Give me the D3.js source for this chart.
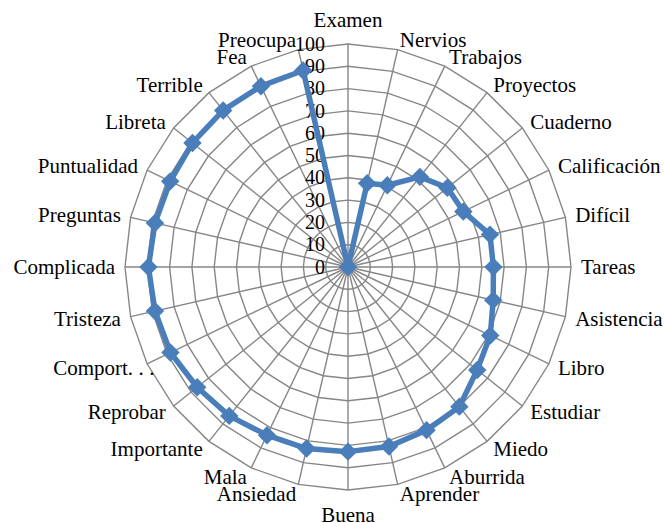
<!DOCTYPE html>
<html>
<head>
<meta charset="utf-8">
<script src="https://cdn.jsdelivr.net/npm/d3@7"></script>
<style>
  html, body { margin: 0; padding: 0; background: #fff; }
  svg { display: block; }
  text { font-family: "Liberation Serif", "Times New Roman", serif; fill: #000; }
  text.cat { font-size: 21px; }
  text.tick { font-size: 20px; }
</style>
</head>
<body>
<svg id="chart" width="665" height="523"></svg>
<script>
// Categories around the radar, clockwise from the top
const categories = [
  "Examen", "Nervios", "Trabajos", "Proyectos", "Cuaderno", "Calificación", "Difícil",
  "Tareas", "Asistencia", "Libro", "Estudiar", "Miedo", "Aburrida", "Aprender",
  "Buena", "Ansiedad", "Mala", "Importante", "Reprobar", "Comport...", "Tristeza",
  "Complicada", "Preguntas", "Puntualidad", "Libreta", "Terrible", "Fea", "Preocupa"
];

// One value per category (0–100)
const values = [
  0, 38.5, 40.7, 51.7, 57, 57.4, 65.3,
  65.2, 66.8, 70.8, 74.1, 80.1, 81.2, 82.6,
  82.8, 83.5, 83.7, 85.4, 86.5, 88.4, 88.8,
  89.5, 88.8, 88.5, 89.2, 89.8, 90, 90.4
];

// Radial axis ticks
const ticks = [0, 10, 20, 30, 40, 50, 60, 70, 80, 90, 100];

const cx = 348, cy = 267, R = 223;
const n = categories.length;

const svg = d3.select("#chart");
const g = svg.append("g").attr("transform", `translate(${cx},${cy})`);

const r = d3.scaleLinear().domain([0, 100]).range([0, R]);
const angle = d3.scaleLinear().domain([0, n]).range([0, 2 * Math.PI]);

const gridColor = "#868686";

// Polygon rings
const ringLine = d3.lineRadial()
  .angle((d, i) => angle(i))
  .radius(d => r(d))
  .curve(d3.curveLinearClosed);

ticks.filter(t => t > 0).forEach(t => {
  g.append("path")
    .attr("d", ringLine(categories.map(() => t)))
    .attr("fill", "none")
    .attr("stroke", gridColor)
    .attr("stroke-width", 1.4);
});

// Spokes
categories.forEach((c, i) => {
  const a = angle(i);
  g.append("line")
    .attr("x1", 0).attr("y1", 0)
    .attr("x2", r(100) * Math.sin(a))
    .attr("y2", -r(100) * Math.cos(a))
    .attr("stroke", gridColor)
    .attr("stroke-width", 1.4);
});

// Tick labels along the top spoke
g.selectAll("text.tick")
  .data(ticks)
  .join("text")
  .attr("class", "tick")
  .attr("x", -23)
  .attr("y", d => -r(d))
  .attr("dy", "0.33em")
  .attr("text-anchor", "end")
  .text(d => d);

// Category labels
const gap = 10;
g.selectAll("text.cat")
  .data(categories)
  .join("text")
  .attr("class", "cat")
  .each(function(d, i) {
    const a = angle(i);
    const s = Math.sin(a), c = Math.cos(a);
    let x = (R + gap) * s;
    let y = -(R + gap) * c;
    let anchor = "middle";
    if (s > 0.05) anchor = "start";
    else if (s < -0.05) anchor = "end";
    else y += c > 0 ? -14 : 15;
    const t = d3.select(this)
      .attr("y", y)
      .attr("dy", "0.33em")
      .attr("text-anchor", anchor);
    if (d.endsWith("...")) {
      // truncated label keeps the box of the full word: spaced dots, pushed toward the ring
      t.attr("x", x + 22);
      t.append("tspan").text(d.slice(0, -3));
      t.append("tspan").attr("letter-spacing", "5.5px").text("...");
    } else {
      t.attr("x", x).text(d);
    }
  });

// Series line
const seriesColor = "#4A7EBB";
g.append("path")
  .attr("d", ringLine(values))
  .attr("fill", "none")
  .attr("stroke", seriesColor)
  .attr("stroke-width", 5.5)
  .attr("stroke-linejoin", "round");

// Diamond markers
const diamond = d3.symbol().type(d3.symbolSquare).size(170);
g.selectAll("path.marker")
  .data(values)
  .join("path")
  .attr("class", "marker")
  .attr("d", diamond)
  .attr("fill", seriesColor)
  .attr("transform", (d, i) => {
    const a = angle(i);
    return `translate(${r(d) * Math.sin(a)},${-r(d) * Math.cos(a)}) rotate(45)`;
  });
</script>
</body>
</html>
